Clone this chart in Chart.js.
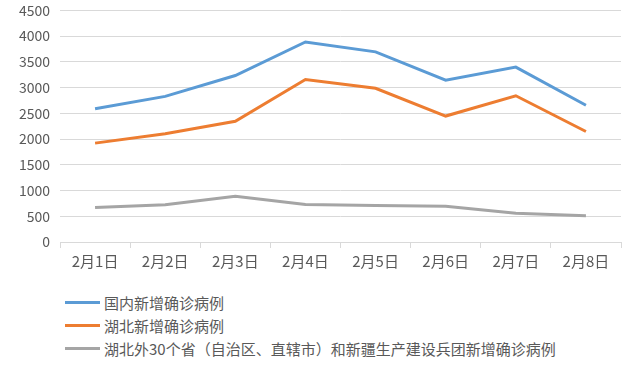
<!DOCTYPE html>
<html>
<head>
<meta charset="utf-8">
<script src="https://cdn.jsdelivr.net/npm/chart.js@4/dist/chart.umd.min.js"></script>
<style>
    html, body { margin: 0; padding: 0; background: #fff; }
    #wrap { position: relative; width: 640px; height: 282px; overflow: hidden; }
    /* the y ticks force ~18px above the plot; pull the canvas up so 4500 sits near the top */
    #chart { display: block; margin-top: -8px; }
    #legend { margin: 9px 0 0 65px; font-family: "Noto Sans CJK SC", sans-serif; font-size: 15px; color: #595959; }
    #legend .item { display: flex; align-items: center; height: 23px; }
    #legend .swatch { width: 35px; height: 3px; margin-right: 4px; }
</style>
</head>
<body>
<div id="wrap"><canvas id="chart" width="640" height="290"></canvas></div>
<div id="legend"></div>
<script>
// categories and series
const days = ['2月1日', '2月2日', '2月3日', '2月4日', '2月5日', '2月6日', '2月7日', '2月8日'];
const seriesNames = ['国内新增确诊病例', '湖北新增确诊病例', '湖北外30个省（自治区、直辖市）和新疆生产建设兵团新增确诊病例'];
const national = [2590, 2829, 3235, 3887, 3694, 3143, 3399, 2656];
const hubei = [1921, 2103, 2345, 3156, 2987, 2447, 2841, 2147];
const outsideHubei = [669, 726, 890, 731, 707, 696, 558, 509];
const colors = ['#5b9bd5', '#ed7d31', '#a5a5a5'];

const font = '"Noto Sans CJK SC", sans-serif';

const chart = new Chart(document.getElementById('chart'), {
    type: 'line',
    data: {
        labels: days,
        datasets: [national, hubei, outsideHubei].map(function (values, i) {
            return {
                label: seriesNames[i],
                data: values,
                borderColor: colors[i],
                backgroundColor: colors[i],
                borderWidth: 3,
                pointRadius: 0,
                tension: 0
            };
        })
    },
    options: {
        responsive: false,
        animation: false,
        layout: { padding: { top: 0, right: 19, bottom: 8, left: 0 } },
        plugins: {
            legend: { display: false },
            tooltip: { enabled: false }
        },
        scales: {
            x: {
                offset: true,
                grid: { offset: true, drawOnChartArea: false, color: '#d9d9d9', tickLength: 6 },
                border: { color: '#d9d9d9' },
                ticks: { color: '#595959', font: { family: font, size: 15 }, padding: 4, maxRotation: 0, autoSkip: false }
            },
            y: {
                min: 0,
                max: 4500,
                ticks: {
                    stepSize: 500, color: '#595959', font: { family: font, size: 14 }, padding: 10,
                    callback: function (v) { return String(v); }
                },
                grid: { color: '#d9d9d9', drawTicks: false },
                border: { display: false },
                afterFit: function (scale) { scale.width = 60; }
            }
        }
    }
});

// legend, one series per row
const legend = document.getElementById('legend');
chart.data.datasets.forEach(function (ds) {
    const item = document.createElement('div');
    item.className = 'item';
    const sw = document.createElement('span');
    sw.className = 'swatch';
    sw.style.background = ds.borderColor;
    const txt = document.createElement('span');
    txt.textContent = ds.label;
    item.appendChild(sw);
    item.appendChild(txt);
    legend.appendChild(item);
});
</script>
</body>
</html>
